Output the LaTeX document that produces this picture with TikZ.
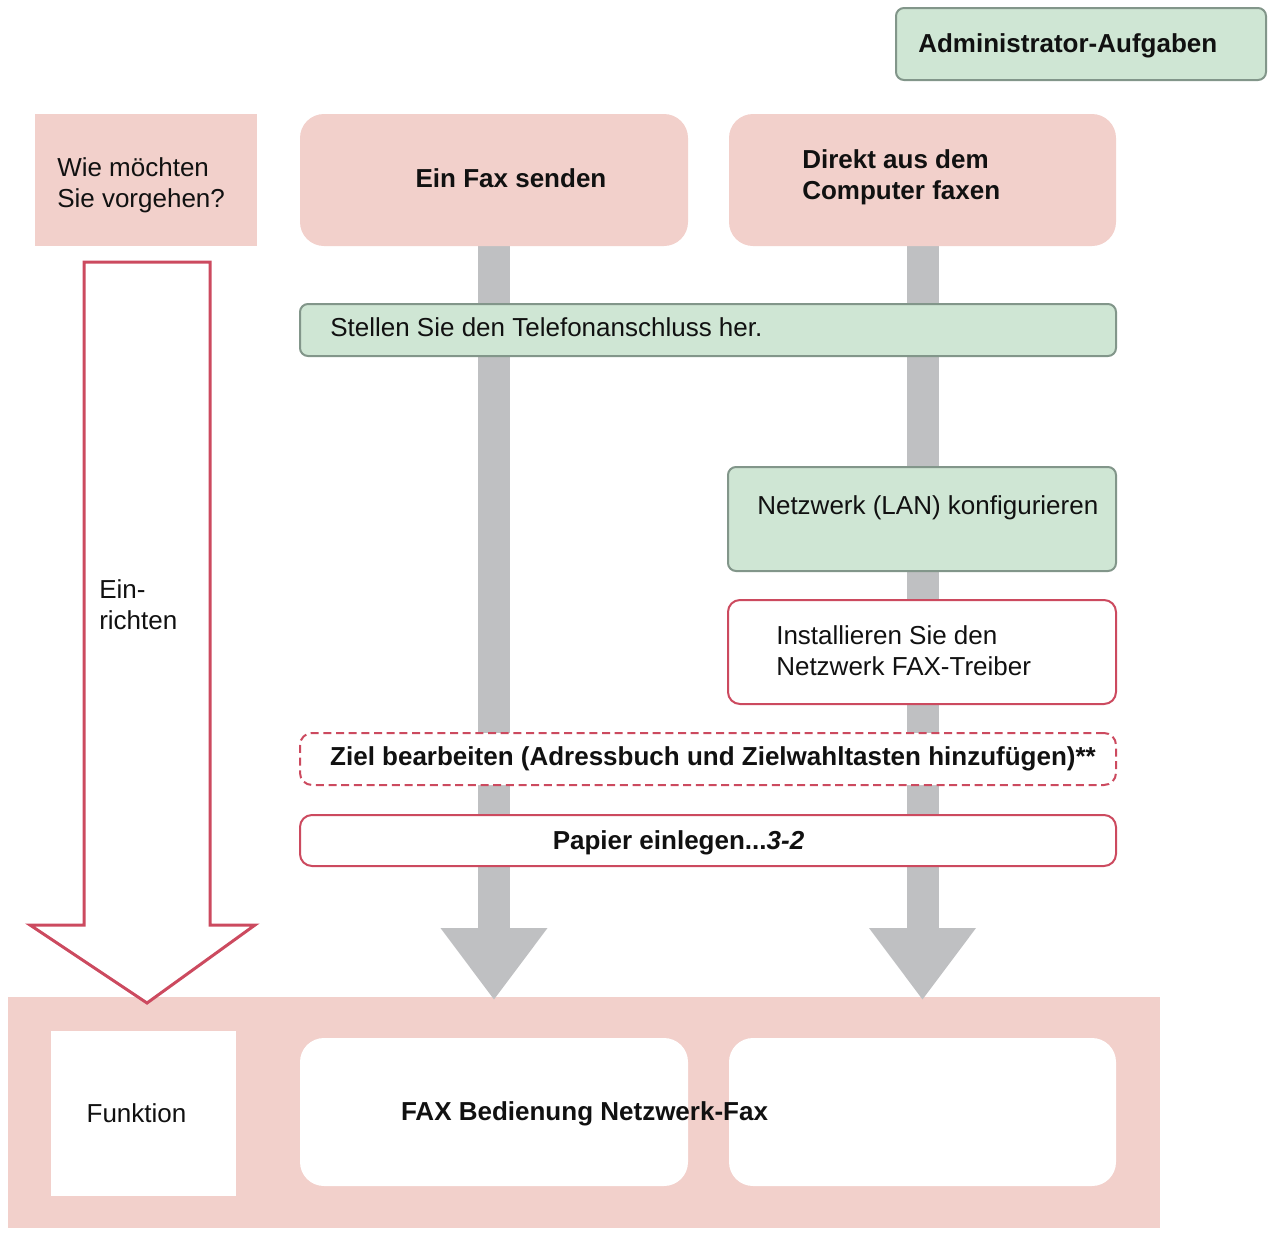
\documentclass[tikz,border=0pt]{standalone}
\usepackage{fontspec}
\setmainfont{Liberation Sans}
\usetikzlibrary{arrows.meta,backgrounds}
\definecolor{pinkc}{HTML}{F2D0CB}
\definecolor{greenc}{HTML}{CFE6D4}
\definecolor{greenb}{HTML}{82968A}
\definecolor{redc}{HTML}{CC4A5F}
\definecolor{grayc}{HTML}{BFC0C2}
\definecolor{txt}{HTML}{111111}
\begin{document}
\begin{tikzpicture}[x=0.75pt,y=-0.75pt,
  every node/.style={font=\fontsize{19.5}{23.25}\selectfont, text=txt},
  box/.style={inner sep=0pt, minimum width=#1},
  pinkbox/.style={fill=pinkc, draw=none, rounded corners=18pt},
  pinkflat/.style={fill=pinkc, draw=none},
  greenbox/.style={fill=greenc, draw=greenb, line width=1.5pt, rounded corners=6pt},
  redbox/.style={fill=white, draw=redc, line width=1.5pt, rounded corners=9pt},
  dashbox/.style={fill=white, draw=redc, line width=1.5pt, rounded corners=9pt, dash pattern=on 6pt off 3.5pt},
  whitebox/.style={fill=white, draw=none, rounded corners=18pt},
  whiteflat/.style={fill=white, draw=none},
  lbl/.style={anchor=base west, align=left, inner sep=0pt},
  clbl/.style={anchor=base, align=center, inner sep=0pt},
  bar/.style={draw=grayc, line width=24pt, -{Triangle[width=76.5pt,length=54pt]}},
  hollow/.style={draw=redc, line width=2.25pt, fill=white, line join=miter}
]
\useasboundingbox (0,0) rectangle (1270,1232);

% boxes
\node[box=277.5pt, minimum height=54pt, greenbox] (admin) at (1081,44) {};
\node[box=166.5pt, minimum height=99pt, pinkflat] (wie) at (146,180) {};
\node[box=291pt, minimum height=99pt, pinkbox] (fax) at (494,180) {};
\node[box=290.25pt, minimum height=99pt, pinkbox] (direkt) at (922.5,180) {};

% background: band and gray bars
\begin{scope}[on background layer]
  \node[box=864pt, minimum height=173.25pt, pinkflat] (band) at (584,1112.5) {};
  \coordinate (tip1) at (494,1000);
  \coordinate (tip2) at (922.5,1000);
  \draw[bar] (fax.south) -- (tip1);
  \draw[bar] (direkt.south) -- (tip2);
\end{scope}

\node[box=612pt, minimum height=39pt, greenbox] (stellen) at (708,330) {};
\node[box=291pt, minimum height=78pt, greenbox] (lan) at (922,519) {};
\node[box=291pt, minimum height=78pt, redbox] (install) at (922,652) {};
\node[box=612pt, minimum height=39pt, dashbox] (ziel) at (708,759) {};
\node[box=612pt, minimum height=38.25pt, redbox] (papier) at (708,840.5) {};

\node[box=138.75pt, minimum height=123.75pt, whiteflat] (funk) at (143.5,1113.5) {};
\node[box=291pt, minimum height=111pt, whitebox] (wb1) at (494,1112) {};
\node[box=290.25pt, minimum height=111pt, whitebox] (wb2) at (922.5,1112) {};

% hollow red arrow
\draw[hollow] (84,262) coordinate (a1) -- (210,262) coordinate (a2) -- (210,925) coordinate (a3)
  -- (255,925) coordinate (a4) -- (147,1003) coordinate (a5) -- (30,925) coordinate (a6)
  -- (84,925) coordinate (a7) -- cycle;

% texts (multi-line nodes: base = last line's baseline)
\node[lbl, font=\fontsize{19.5}{23.25}\selectfont\bfseries] (tadmin) at (918,52) {Administrator-Aufgaben};
\node[lbl] (twie) at (57,207) {Wie möchten\\Sie vorgehen?};
\node[clbl, font=\fontsize{19.5}{23.25}\selectfont\bfseries] (tfax) at (511,187) {Ein Fax senden};
\node[lbl, font=\fontsize{19.5}{23.25}\selectfont\bfseries] (tdirekt) at (802,199) {Direkt aus dem\\Computer faxen};
\node[lbl] (tstellen) at (330,336) {Stellen Sie den Telefonanschluss her.};
\node[lbl] (tlan) at (757,514) {Netzwerk (LAN) konfigurieren};
\node[lbl] (tinstall) at (776,675) {Installieren Sie den\\Netzwerk FAX-Treiber};
\node[lbl] (tein) at (99,629) {Ein-\\richten};
\node[clbl, font=\fontsize{19.5}{23.25}\selectfont\bfseries] (tziel) at (713,765) {Ziel bearbeiten (Adressbuch und Zielwahltasten hinzufügen)**};
\node[clbl, font=\fontsize{19.5}{23.25}\selectfont\bfseries] (tpapier) at (678.5,849) {Papier einlegen...\textit{3-2}};
\node[clbl] (tfunk) at (136.5,1122) {Funktion};
\node[clbl, font=\fontsize{19.5}{23.25}\selectfont\bfseries] (tbed) at (584.5,1120) {FAX Bedienung Netzwerk-Fax};
\end{tikzpicture}
\end{document}
